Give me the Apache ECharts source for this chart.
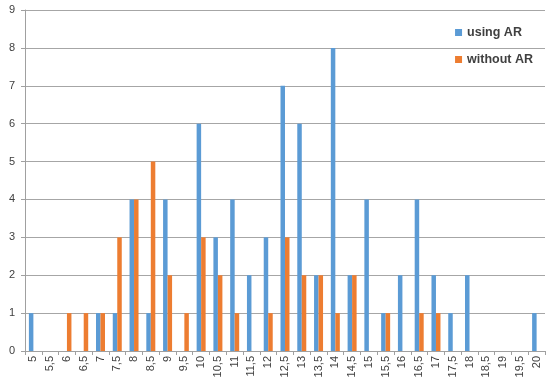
<!DOCTYPE html>
<html>
<head>
<meta charset="utf-8">
<script src="https://cdn.jsdelivr.net/npm/echarts@6/dist/echarts.min.js"></script>
<style>
  html, body { margin: 0; padding: 0; background: #fff; }
  #chart { width: 550px; height: 386px; }
</style>
</head>
<body>
<div id="chart"></div>
<script>
// categories (comma decimal as in the source)
const categories = ['5','5,5','6','6,5','7','7,5','8','8,5','9','9,5','10','10,5','11','11,5','12',
  '12,5','13','13,5','14','14,5','15','15,5','16','16,5','17','17,5','18','18,5','19','19,5','20'];
const usingAR   = [1,0,0,0,1,1,4,1,4,0,6,3,4,2,3,7,6,2,8,2,4,1,2,4,2,1,2,0,0,0,1];
const withoutAR = [0,0,1,1,1,3,4,5,2,1,3,2,1,0,1,3,2,2,1,2,0,1,0,1,1,0,0,0,0,0,0];

const chart = echarts.init(document.getElementById('chart'));

chart.setOption({
  animation: false,
  textStyle: { fontFamily: 'Liberation Sans' },
  grid: { left: 25, right: 5, top: 10, bottom: 35 },
  legend: {
    orient: 'vertical',
    right: 12, top: 21,
    itemWidth: 7, itemHeight: 7, itemGap: 14,
    icon: 'rect',
    textStyle: { fontSize: 12.5, fontWeight: 'bold', color: '#404040' },
    data: ['using AR', 'without AR']
  },
  xAxis: {
    type: 'category',
    data: categories,
    axisLine: { lineStyle: { color: '#a0a0a0' } },
    axisTick: { show: true, length: 4, lineStyle: { color: '#a0a0a0' } },
    axisLabel: { rotate: 90, interval: 0, fontSize: 11, color: '#404040', margin: 5 }
  },
  yAxis: {
    type: 'value',
    min: 0, max: 9, interval: 1,
    axisLine: { show: true, lineStyle: { color: '#a0a0a0' } },
    axisTick: { show: true, length: 4, lineStyle: { color: '#a0a0a0' } },
    axisLabel: { fontSize: 11, color: '#404040', margin: 10 },
    splitLine: { lineStyle: { color: '#a6a6a6' } }
  },
  series: [
    { name: 'using AR', type: 'bar', data: usingAR, barWidth: 4.5, barGap: '0%',
      itemStyle: { color: '#5B9BD5' } },
    { name: 'without AR', type: 'bar', data: withoutAR, barWidth: 4.5,
      itemStyle: { color: '#ED7D31' } }
  ]
});
</script>
</body>
</html>
